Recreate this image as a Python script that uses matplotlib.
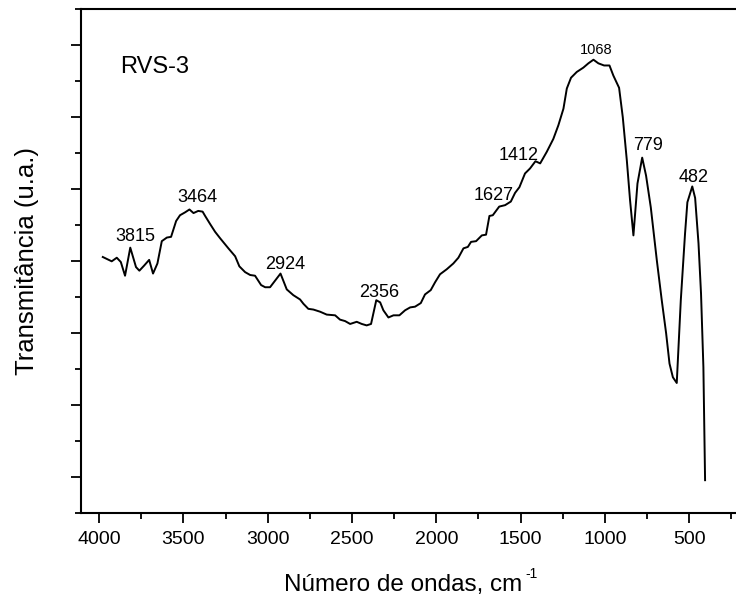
import numpy as np
import matplotlib
matplotlib.use('Agg')
import matplotlib.pyplot as plt
from matplotlib.ticker import FixedLocator, MultipleLocator, NullFormatter

plt.rcParams['font.family'] = ['Liberation Sans', 'DejaVu Sans']

# espectro FTIR da amostra RVS-3 (numero de ondas em cm-1, transmitancia em u.a.)
onda = [3978, 3925, 3895, 3871, 3846, 3815, 3781, 3761, 3733, 3703, 3680, 3654,
        3628, 3598, 3573, 3543, 3520, 3490, 3464, 3440, 3412, 3386, 3371, 3342,
        3312, 3282, 3233, 3193, 3168, 3134, 3104, 3075, 3039, 3015, 2986, 2924,
        2887, 2848, 2808, 2788, 2759, 2729, 2689, 2650, 2600, 2571, 2541, 2511,
        2472, 2442, 2413, 2387, 2356, 2333, 2314, 2284, 2254, 2219, 2185, 2155,
        2126, 2092, 2067, 2033, 2007, 1978, 1938, 1899, 1869, 1839, 1813, 1794,
        1764, 1730, 1705, 1685, 1665, 1627, 1592, 1558, 1533, 1507, 1474, 1444,
        1412, 1384, 1345, 1306, 1276, 1246, 1226, 1201, 1167, 1128, 1098, 1068,
        1039, 1005, 973, 950, 916, 894, 870, 851, 831, 807, 779, 756, 728, 692,
        663, 637, 617, 597, 574, 550, 525, 511, 482, 465, 445, 430, 416, 406]
trans = [4.06, 4.00, 4.05, 3.99, 3.80, 4.19, 3.92, 3.87, 3.94, 4.02, 3.83, 3.97,
         4.28, 4.33, 4.34, 4.56, 4.64, 4.68, 4.72, 4.67, 4.70, 4.69, 4.63, 4.52,
         4.41, 4.32, 4.18, 4.07, 3.93, 3.85, 3.81, 3.80, 3.67, 3.64, 3.64, 3.83,
         3.61, 3.53, 3.47, 3.41, 3.34, 3.33, 3.30, 3.26, 3.25, 3.19, 3.17, 3.13,
         3.16, 3.13, 3.11, 3.13, 3.46, 3.43, 3.32, 3.22, 3.25, 3.25, 3.32, 3.36,
         3.37, 3.42, 3.54, 3.60, 3.71, 3.82, 3.89, 3.97, 4.05, 4.18, 4.20, 4.27,
         4.28, 4.36, 4.37, 4.63, 4.64, 4.76, 4.78, 4.83, 4.95, 5.03, 5.22, 5.29,
         5.39, 5.36, 5.52, 5.70, 5.89, 6.12, 6.40, 6.55, 6.63, 6.69, 6.75, 6.80,
         6.75, 6.72, 6.72, 6.58, 6.41, 6.00, 5.40, 4.85, 4.36, 5.08, 5.44, 5.19,
         4.75, 4.01, 3.46, 3.00, 2.58, 2.39, 2.31, 3.46, 4.38, 4.82, 5.04, 4.88,
         4.25, 3.55, 2.53, 0.96]

# bandas marcadas e posicao dos rotulos
bandas = ['3815', '3464', '2924', '2356', '1627', '1412', '1068', '779', '482']
rot_x = [3786, 3419, 2899, 2339, 1659, 1509, 1052, 744, 473]
rot_y = [4.35, 4.89, 3.95, 3.56, 4.92, 5.47, 6.93, 5.61, 5.16]
rot_tam = [13, 13, 13, 13, 13, 13, 10.5, 13, 13]

# marcas do eixo x (so as que aparecem com rotulo)
xticks = [4000, 3500, 3000, 2500, 2000, 1500, 1000, 500]

fig = plt.figure(figsize=(7.36, 6.01), dpi=100)
ax = fig.add_axes([0.1101, 0.1459, 0.9409, 0.8386])

ax.plot(onda, trans, 'k-', lw=1.4)

for b, x, y, s in zip(bandas, rot_x, rot_y, rot_tam):
    ax.text(x, y, b, ha='center', va='center', fontsize=s)

ax.text(3875, 6.70, 'RVS-3', ha='left', va='center', fontsize=17)

ax.set_xlim(4107, 0)
ax.set_ylim(0.5, 7.5)
ax.xaxis.set_major_locator(FixedLocator(xticks))
ax.xaxis.set_minor_locator(MultipleLocator(250))
ax.yaxis.set_major_locator(MultipleLocator(1))
ax.yaxis.set_minor_locator(MultipleLocator(0.5))
ax.yaxis.set_major_formatter(NullFormatter())
ax.tick_params(which='major', direction='out', length=7, width=1.3, labelsize=14, pad=6)
ax.tick_params(which='minor', direction='out', length=4, width=1.3)
for s in ax.spines.values():
    s.set_linewidth(1.5)

fig.text(27 / 736, (601 - 261) / 601, 'Transmitância (u.a.)', fontsize=18.5,
         rotation=90, ha='center', va='center')
fig.text(284 / 736, (601 - 590.7) / 601, 'Número de ondas, cm', fontsize=17.5,
         ha='left', va='baseline')
fig.text(525 / 736, (601 - 578.5) / 601, '-1', fontsize=10, ha='left', va='baseline')

plt.savefig('out.png', dpi=100)
